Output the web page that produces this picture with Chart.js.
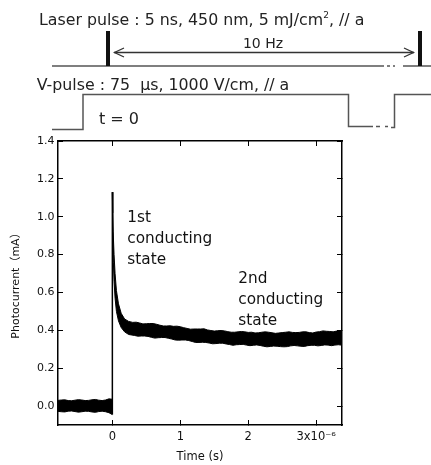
<!DOCTYPE html>
<html>
<head>
<meta charset="utf-8">
<script src="https://cdn.jsdelivr.net/npm/chart.js@4.4.1/dist/chart.umd.min.js"></script>
<style>
  html, body { margin: 0; padding: 0; background: #fff; overflow: hidden; }
  #wrap { position: absolute; left: 0; top: 0; width: 431px; height: 465px; }
  #chartBox { position: absolute; left: 0; top: 0; width: 431px; height: 465px; }
  .t { position: absolute; font-family: "DejaVu Sans", "Noto Sans CJK JP", sans-serif; color: #222; white-space: nowrap; line-height: 1; }
  .ann { position: absolute; font-family: "DejaVu Sans", sans-serif; color: #111; font-size: 15.3px; line-height: 21px; white-space: nowrap; }
  svg { position: absolute; left: 0; top: 0; }
</style>
</head>
<body>
<div id="wrap">
  <div id="chartBox"><canvas id="c"></canvas></div>
  <svg width="431" height="140" viewBox="0 0 431 140">
    <g stroke="#555" stroke-width="1.5" fill="none">
      <line x1="52" y1="66" x2="384" y2="66"/>
      <line x1="387" y1="66" x2="390" y2="66"/>
      <line x1="393" y1="66" x2="395" y2="66"/>
      <line x1="403" y1="66" x2="431" y2="66"/>
    </g>
    <rect x="106" y="31" width="4" height="35" fill="#111"/>
    <rect x="418" y="31" width="4" height="35" fill="#111"/>
    <g stroke="#333" stroke-width="1.3" fill="none">
      <line x1="114" y1="52.5" x2="414" y2="52.5"/>
      <polyline points="124,48 114.5,52.5 124,57"/>
      <polyline points="404,48 413.5,52.5 404,57"/>
    </g>
    <g stroke="#555" stroke-width="1.5" fill="none">
      <polyline points="52,129.5 83,129.5 83,94.5 348.5,94.5 348.5,126.5 373,126.5"/>
      <line x1="376" y1="126.5" x2="380" y2="126.5"/>
      <line x1="385" y1="126.5" x2="388" y2="126.5"/>
      <polyline points="391,127.5 394.5,127.5 394.5,94.5 431,94.5"/>
    </g>
  </svg>
  <div class="t" style="left:39px; top:10.9px; font-size:15.8px;">Laser pulse : 5 ns, 450 nm, 5 mJ/cm<sup style="font-size:9px; vertical-align:7px;">2</sup>, // a</div>
  <div class="t" style="left:263px; top:35.5px; font-size:14px; transform:translateX(-50%);">10 Hz</div>
  <div class="t" style="left:36.7px; top:76.5px; font-size:15.8px;">V-pulse : 75 &nbsp;μs, 1000 V/cm, // a</div>
  <div class="t" style="left:99px; top:111.4px; font-size:16px;">t = 0</div>
  <div class="ann" style="left:127.3px; top:207px;">1st<br>conducting<br>state</div>
  <div class="ann" style="left:238.3px; top:268px;">2nd<br>conducting<br>state</div>
</div>
<script>
// ---- data (time in microseconds, photocurrent in mA) ----
const xTickValues = [0, 1, 2, 3];
const yTickValues = [0.0, 0.2, 0.4, 0.6, 0.8, 1.0, 1.2, 1.4];

// noise band before the laser pulse (upper / lower edges)
const preTime  = [-0.80,-0.75,-0.70,-0.65,-0.60,-0.55,-0.50,-0.45,-0.40,-0.35,-0.30,-0.25,-0.20,-0.15,-0.10,-0.05,0.0];
const preUpper = [0.030,0.032,0.033,0.029,0.028,0.031,0.034,0.032,0.029,0.030,0.033,0.035,0.031,0.029,0.032,0.038,0.036];
const preLower = [-0.028,-0.030,-0.031,-0.027,-0.026,-0.029,-0.032,-0.030,-0.027,-0.028,-0.031,-0.033,-0.029,-0.027,-0.030,-0.035,-0.045];

// step at t = 0
const riseTime  = [0, 0];
const riseValue = [-0.045, 1.13];

// fast decay (1st conducting state), band edges
const decayUpperTime = [0, 0.005, 0.012, 0.025, 0.04, 0.06, 0.09, 0.13, 0.18, 0.24];
const decayUpper     = [1.13, 1.02, 0.92, 0.80, 0.70, 0.61, 0.54, 0.49, 0.46, 0.447];
const decayLowerTime = [0, 0.003, 0.008, 0.015, 0.025, 0.04, 0.06, 0.09, 0.13, 0.18, 0.24];
const decayLower     = [1.13, 0.98, 0.86, 0.76, 0.66, 0.57, 0.50, 0.45, 0.415, 0.392, 0.378];

// slow part (2nd conducting state), band edges
const slowUpperTime = [0.30,0.35,0.40,0.45,0.50,0.55,0.60,0.65,0.70,0.75,0.80,0.85,0.90,0.95,1.00,1.05,1.10,1.15,1.20,1.25,1.30,1.35,1.40,1.45,1.50,1.55,1.60,1.65,1.70,1.75,1.80,1.85,1.90,1.95,2.00,2.05,2.10,2.15,2.20,2.25,2.30,2.35,2.40,2.45,2.50,2.55,2.60,2.65,2.70,2.75,2.80,2.85,2.90,2.95,3.00,3.05,3.10,3.15,3.20,3.25,3.30,3.35,3.40];
const slowUpper = [0.442,0.443,0.439,0.434,0.435,0.436,0.436,0.432,0.427,0.423,0.423,0.424,0.421,0.422,0.419,0.414,0.410,0.406,0.407,0.407,0.407,0.408,0.402,0.399,0.396,0.398,0.399,0.397,0.393,0.390,0.390,0.392,0.394,0.392,0.389,0.390,0.386,0.387,0.390,0.392,0.390,0.387,0.384,0.386,0.388,0.390,0.392,0.389,0.388,0.389,0.392,0.392,0.388,0.386,0.391,0.393,0.397,0.395,0.394,0.392,0.396,0.398,0.396];
const slowLowerTime = [0.325,0.375,0.425,0.475,0.525,0.575,0.625,0.675,0.725,0.775,0.825,0.875,0.925,0.975,1.025,1.075,1.125,1.175,1.225,1.275,1.325,1.375,1.425,1.475,1.525,1.575,1.625,1.675,1.725,1.775,1.825,1.875,1.925,1.975,2.025,2.075,2.125,2.175,2.225,2.275,2.325,2.375,2.425,2.475,2.525,2.575,2.625,2.675,2.725,2.775,2.825,2.875,2.925,2.975,3.025,3.075,3.125,3.175,3.225,3.275,3.325,3.375,3.425];
const slowLower = [0.373,0.369,0.370,0.370,0.368,0.363,0.359,0.361,0.362,0.362,0.358,0.354,0.349,0.348,0.349,0.349,0.346,0.341,0.336,0.336,0.337,0.336,0.333,0.329,0.330,0.332,0.332,0.328,0.325,0.321,0.324,0.325,0.326,0.322,0.319,0.321,0.323,0.320,0.316,0.313,0.315,0.317,0.316,0.314,0.313,0.314,0.318,0.320,0.318,0.316,0.315,0.319,0.321,0.321,0.318,0.320,0.323,0.322,0.319,0.322,0.324,0.322,0.324];

const xLabel = "Time (s)";
const yLabel = "Photocurrent\uFF08mA\uFF09";

// ---- build ----
const pts = (xs, ys) => xs.map((x, i) => ({ x: x, y: ys[i] }));
const postUpperPts = pts(decayUpperTime, decayUpper).concat(pts(slowUpperTime, slowUpper));
const postLowerPts = pts(decayLowerTime, decayLower).concat(pts(slowLowerTime, slowLower));

const base = { borderColor: '#000', backgroundColor: '#000', borderWidth: 1, pointRadius: 0, tension: 0 };

const tickFontFam = '"DejaVu Sans", "Noto Sans CJK JP", sans-serif';
const setTicks = vals => scale => { scale.ticks = vals.map(v => ({ value: v })); };

new Chart(document.getElementById('c'), {
  type: 'line',
  data: {
    datasets: [
      Object.assign({}, base, { label: 'pre upper', data: pts(preTime, preUpper), fill: false }),
      Object.assign({}, base, { label: 'pre lower', data: pts(preTime, preLower), fill: '-1' }),
      Object.assign({}, base, { label: 'post upper', data: postUpperPts, fill: false }),
      Object.assign({}, base, { label: 'post lower', data: postLowerPts, fill: '-1' }),
      Object.assign({}, base, { label: 'rise', data: pts(riseTime, riseValue), fill: false, borderWidth: 1.5 })
    ]
  },
  options: {
    responsive: true,
    maintainAspectRatio: false,
    animation: false,
    events: [],
    layout: { padding: { top: 141, right: 89, bottom: 0, left: 0 } },
    plugins: { legend: { display: false }, tooltip: { enabled: false }, title: { display: false } },
    scales: {
      x: {
        type: 'linear', position: 'bottom', min: -0.8, max: 3.38,
        afterBuildTicks: setTicks(xTickValues),
        afterFit: s => { s.height = 40; },
        grid: { drawOnChartArea: false, drawTicks: true, tickLength: -5, tickColor: '#000', tickWidth: 1 },
        border: { display: true, color: '#000', width: 1.5 },
        ticks: {
          padding: 10.2, color: '#111', maxRotation: 0, autoSkip: false,
          font: { family: tickFontFam, size: 11.5 },
          callback: v => (v === 3 ? '3x10\u207B\u2076' : String(v))
        },
        title: { display: true, text: xLabel, color: '#111', font: { family: tickFontFam, size: 11.5 }, padding: { top: 0, bottom: 1 } }
      },
      x2: {
        type: 'linear', axis: 'x', position: 'top', min: -0.8, max: 3.38,
        afterBuildTicks: setTicks(xTickValues),
        afterFit: s => { s.height = 0; },
        grid: { drawOnChartArea: false, drawTicks: true, tickLength: -5, tickColor: '#000', tickWidth: 1 },
        border: { display: true, color: '#000', width: 1.5 },
        ticks: { display: false }
      },
      y: {
        type: 'linear', position: 'left', min: -0.1, max: 1.4,
        afterBuildTicks: setTicks(yTickValues),
        afterFit: s => { s.width = 58; },
        grid: { drawOnChartArea: false, drawTicks: true, tickLength: -5, tickColor: '#000', tickWidth: 1 },
        border: { display: true, color: '#000', width: 1.5 },
        ticks: {
          padding: 8.5, color: '#111', autoSkip: false,
          font: { family: tickFontFam, size: 11 },
          callback: v => v.toFixed(1)
        },
        title: { display: true, text: yLabel, color: '#111', font: { family: tickFontFam, size: 11 }, padding: { top: 9.4, bottom: 0 } }
      },
      y2: {
        type: 'linear', axis: 'y', position: 'right', min: -0.1, max: 1.4,
        afterBuildTicks: setTicks(yTickValues),
        afterFit: s => { s.width = 0; },
        grid: { drawOnChartArea: false, drawTicks: true, tickLength: -5, tickColor: '#000', tickWidth: 1 },
        border: { display: true, color: '#000', width: 1.5 },
        ticks: { display: false }
      }
    }
  }
});
</script>
</body>
</html>
